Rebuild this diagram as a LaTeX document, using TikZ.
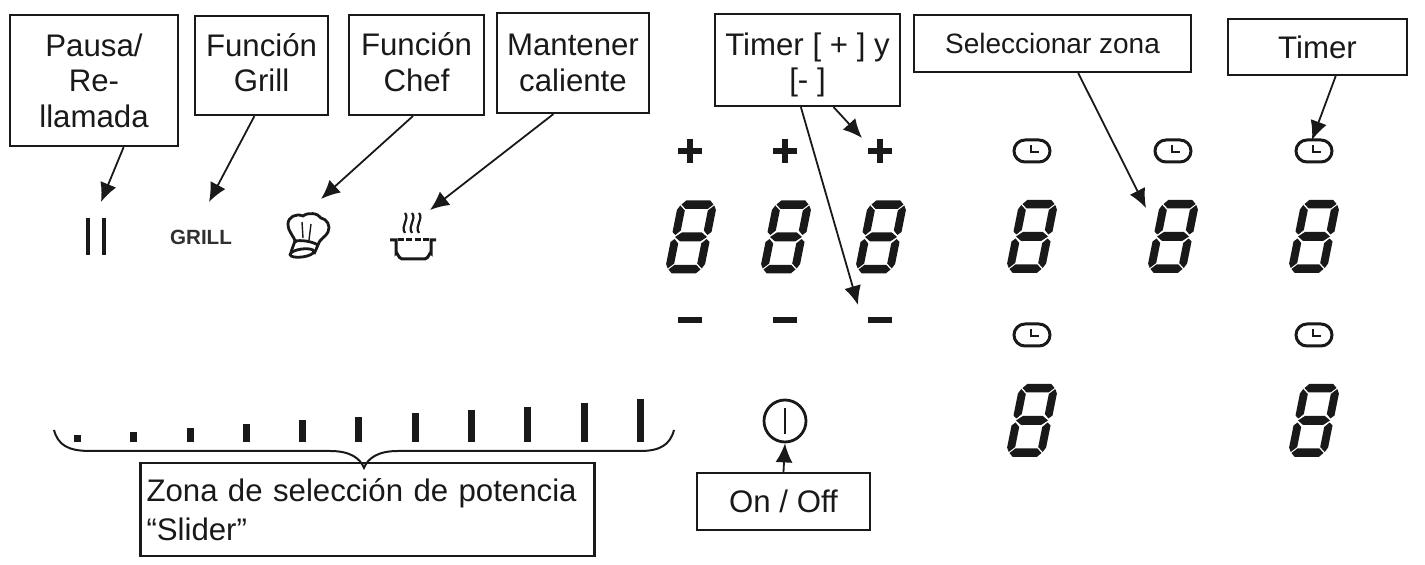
\documentclass[tikz,border=0pt]{standalone}
\usepackage{fontspec}
\setmainfont{Liberation Sans}
\usetikzlibrary{arrows.meta}
\definecolor{myblack}{RGB}{25, 25, 25}
\tikzset{>={Latex[length=9.5pt,width=8.5pt]}}
\tikzset{lbl/.style = {draw = myblack, line width = 1.1pt, align = center, inner sep = 0pt, font = \fontsize{15.6}{17.7}\selectfont, text = myblack}}
\tikzset{conn/.style = {->, myblack, line width = 0.9pt}}
\tikzset{digit/.pic = {
\begin{scope}[xslant = 0.2]
\foreach \sy in {1, -1} {
\fill[myblack, yscale = \sy] (-12, -36.5) -- (12, -36.5) -- (16, -32.5) -- (11, -28) -- (-11, -28) -- (-16, -32.5) -- cycle;
\foreach \sx in {1, -1} {
\fill[myblack, xscale = \sx, yscale = \sy] (-19.5, -27) -- (-17, -31.5) -- (-11.5, -26.5) -- (-11.5, -6.5) -- (-16, -2) -- (-19.5, -5) -- cycle;
}
}
\fill[myblack] (-16, 0) -- (-10, -4.5) -- (10, -4.5) -- (16, 0) -- (10, 4.5) -- (-10, 4.5) -- cycle;
\end{scope}
}}
\tikzset{clock/.pic = {
\draw[myblack, line width = 1.5pt, rounded corners = 5.5pt] (-18, -11) rectangle (18, 11);
\draw[myblack, line width = 1.1pt] (-1, -6) -- (-1, 1) -- (7, 1);
}}

\begin{document}
\begin{tikzpicture}[x = 0.5pt, y = -0.5pt]
\useasboundingbox (0, 0) rectangle (1425, 565);

\node[lbl, minimum width = 84pt, minimum height = 65.5pt] (pausa) at (94, 80.5) {Pausa/\\Re-\\llamada};
\node[lbl, minimum width = 66.5pt, minimum height = 49.5pt] (grill) at (261.5, 65.5) {Función\\Grill\rule[-3pt]{0pt}{0pt}};
\node[lbl, minimum width = 67.5pt, minimum height = 50pt] (chef) at (416.5, 65) {Función\\Chef\rule[-3pt]{0pt}{0pt}};
\node[lbl, minimum width = 76pt, minimum height = 50pt] (caliente) at (573, 63) {Mantener\\caliente};
\node[lbl, minimum width = 92.5pt, minimum height = 46pt] (timerpm) at (807.5, 60) {\rule{0pt}{16pt}Timer [ + ] y\\[0pt] [- ]};
\node[lbl, font = \fontsize{14}{17}\selectfont, minimum width = 138.5pt, minimum height = 28.5pt] (zona) at (1052.5, 43.5) {Seleccionar zona};
\node[lbl, minimum width = 89.5pt, minimum height = 28pt] (timer) at (1317.5, 47) {Timer};
\node[lbl, minimum width = 86.5pt, minimum height = 28.5pt] (onoff) at (783.5, 501.5) {On / Off};
\node[lbl, align = left, text width = 221pt, inner xsep = 3pt, minimum height = 46.5pt] (slider) at (367.5, 509.5) {Zona de selección de potencia\\[1.5pt]“Slider”};

\coordinate (pausatip) at (101, 202);
\coordinate (grilltip) at (209, 202);
\coordinate (cheftip) at (321, 199);
\coordinate (calientetip) at (430, 210);
\coordinate (plustip) at (862, 138);
\coordinate (minustip) at (858, 305);
\coordinate (zonatip) at (1146, 208);
\coordinate (timertip) at (1312, 140);

\draw[myblack, line width = 1.7pt] (88, 218) -- (88, 255);
\draw[myblack, line width = 1.7pt] (104, 218) -- (104, 255);
\node[text = myblack!90, inner sep = 0pt, font = \fontsize{10.3}{12}\selectfont\bfseries] (grilltxt) at (201, 237) {GRILL};

\begin{scope}[myblack, line width = 1.4pt]
\draw (296, 243) .. controls (294, 236) and (288, 232) .. (288, 224) .. controls (288, 217) and (296, 213) .. (303, 216) .. controls (308, 212) and (318, 213) .. (321, 218) .. controls (327, 219) and (331, 226) .. (328, 232) .. controls (326, 237) and (320, 238) .. (318, 245);
\draw (294, 241) .. controls (302, 240) and (311, 241) .. (318, 245);
\draw (295, 241) -- (291, 252);
\draw (318, 245) -- (314, 254);
\draw[rotate around = {8:(302, 253)}] (302, 253) ellipse [x radius = 12, y radius = 4];
\draw[line width = 0.7pt] (302, 222) -- (303, 238);
\draw[line width = 0.7pt] (311, 224) -- (309, 240);
\end{scope}

\begin{scope}[myblack, line width = 1.5pt]
\foreach \x in {405, 412, 419} {
\draw[line width = 1.1pt] (\x, 213) .. controls (\x + 5, 219) and (\x - 5, 226) .. (\x, 233);
}
\draw (390, 240) -- (396, 240) -- (396, 253) to[out = 90, in = 180] (402, 259) -- (425, 259) to[out = 0, in = 90] (431, 253) -- (431, 240) -- (436, 240);
\draw[dash pattern = on 3pt off 1.2pt] (398, 240) -- (429, 240);
\end{scope}

\foreach \x in {690, 785, 880} {
\draw[myblack, line width = 2.7pt] (\x - 12, 151) -- (\x + 12, 151);
\draw[myblack, line width = 2.7pt] (\x, 139) -- (\x, 163);
\draw[myblack, line width = 2.7pt] (\x - 12, 320) -- (\x + 12, 320);
\pic at (\x + 1, 237) {digit};
}
\foreach \x in {1032, 1173, 1314} {
\pic at (\x, 151) {clock};
\pic at (\x, 236.5) {digit};
}
\foreach \x in {1032, 1314} {
\pic at (\x, 335) {clock};
\pic at (\x, 420.5) {digit};
}

\foreach \x/\t in {77/435, 133/432, 190/428, 246/424, 302/420, 358/417, 415/413, 471/410, 527/407, 584/403, 640/399} {
\draw[myblack, line width = 3.5pt] (\x, 442) -- (\x, \t);
}
\draw[myblack, line width = 1pt] (54, 430) .. controls (58, 445) and (68, 451) .. (90, 451) -- (330, 451) .. controls (350, 451) and (360, 458) .. (364, 468) .. controls (368, 458) and (378, 451) .. (398, 451) -- (640, 451) .. controls (660, 451) and (670, 445) .. (674, 430);

\node[circle, draw = myblack, line width = 1.4pt, minimum size = 21pt, inner sep = 0pt] (power) at (785, 421) {};
\draw[myblack, line width = 1.2pt] (785, 408) -- (785, 434);

\draw[conn] (pausa.-66) -- (pausatip);
\draw[conn] (grill.-98.5) -- (grilltip);
\draw[conn] (chef.-94) -- (cheftip);
\draw[conn] (caliente.-111) -- (calientetip);
\draw[conn] (timerpm.-61) -- (plustip);
\draw[conn] (timerpm.-98) -- (minustip);
\draw[conn] (zona.-49) -- (zonatip);
\draw[conn] (timer.-58) -- (timertip);
\draw[conn] (onoff.north) -- (power.south);
\end{tikzpicture}
\end{document}
